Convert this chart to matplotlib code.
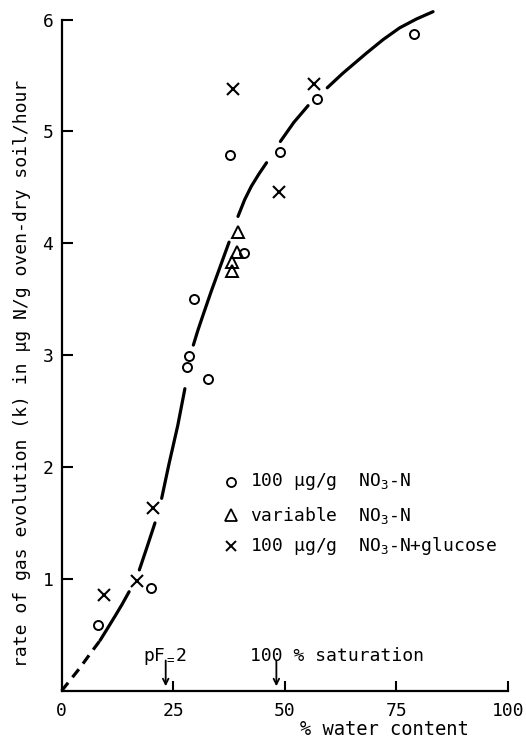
import matplotlib
matplotlib.use("Agg")
import matplotlib.pyplot as plt

# --- measurements: % water content vs rate of gas evolution (k) ---
nitrate_x = [78.9, 57.2, 48.9, 37.7, 40.8, 29.6, 28.5, 28.0, 32.7, 20.0, 8.2]
nitrate_y = [5.87, 5.29, 4.82, 4.79, 3.91, 3.50, 2.99, 2.89, 2.79, 0.92, 0.59]

variable_x = [39.5, 39.2, 38.1, 38.1]
variable_y = [4.10, 3.92, 3.83, 3.75]

glucose_x = [38.3, 56.6, 48.6, 20.5, 16.9, 9.5]
glucose_y = [5.38, 5.42, 4.46, 1.63, 0.98, 0.86]

# --- hand-drawn trend curve, traced as broken pieces ---
curve_dashed_x = [0, 2, 4, 6, 8.6]
curve_dashed_y = [0, 0.10, 0.20, 0.31, 0.45]
curve_pieces = [
    ([8.6, 10, 12, 13.5, 15.1], [0.45, 0.54, 0.67, 0.77, 0.885]),
    ([17.4, 19, 20.9], [1.08, 1.27, 1.50]),
    ([22.4, 24, 26, 27.6], [1.72, 2.02, 2.37, 2.70]),
    ([29.5, 30.5, 31.6, 33.5, 35.5, 37.5], [3.09, 3.22, 3.35, 3.57, 3.79, 4.01]),
    ([39.5, 41, 42.5, 44.2, 45.9], [4.24, 4.39, 4.51, 4.62, 4.72]),
    ([49.0, 52, 55.2], [4.91, 5.08, 5.23]),
    ([59.5, 63, 68.3, 72, 75.7, 79.5, 83.2], [5.39, 5.52, 5.70, 5.82, 5.925, 6.005, 6.07]),
]

x_ticks = [25, 50, 75, 100]
x_tick_labels = ["25", "50", "75", "100"]
y_ticks = [1, 2, 3, 4, 5, 6]

legend_labels = [r"100 µg/g  NO$_3$-N", r"variable  NO$_3$-N", r"100 µg/g  NO$_3$-N+glucose"]

pf2_x = 23.3
saturation_x = 48.1

plt.rcParams["font.family"] = ["DejaVu Sans Mono", "DejaVu Sans"]
plt.rcParams["mathtext.fontset"] = "custom"
plt.rcParams["mathtext.rm"] = "DejaVu Sans Mono"
plt.rcParams["mathtext.it"] = "DejaVu Sans Mono"

fig = plt.figure(figsize=(5.26, 7.44), dpi=100)
ax = fig.add_axes([0.1173, 0.0716, 0.8485, 0.9172])

ax.set_xlim(0, 100)
ax.set_ylim(0, 6.1)

for s in ("top", "right"):
    ax.spines[s].set_visible(False)
for s in ("left", "bottom"):
    ax.spines[s].set_linewidth(1.6)
ax.spines["left"].set_bounds(0, 6)
ax.spines["bottom"].set_bounds(0, 100)

# trend curve
ax.plot(curve_dashed_x, curve_dashed_y, color="black", lw=2.3,
        linestyle=(0, (3.2, 2.2)), solid_capstyle="butt", clip_on=False)
for px, py in curve_pieces:
    ax.plot(px, py, color="black", lw=2.3, solid_capstyle="round",
            solid_joinstyle="round", clip_on=False)

# markers
ax.plot(nitrate_x, nitrate_y, linestyle="none", marker="o", ms=6.5,
        mfc="white", mec="black", mew=1.4)
ax.plot(variable_x, variable_y, linestyle="none", marker="^", ms=8,
        mfc="none", mec="black", mew=1.4)
ax.plot(glucose_x, glucose_y, linestyle="none", marker="x", ms=8,
        mec="black", mew=1.5)

# ticks
ax.set_xticks(x_ticks, labels=x_tick_labels)
ax.set_xticks([0], labels=["0"], minor=True)
ax.set_yticks(y_ticks)
ax.tick_params(axis="x", which="major", direction="in", length=7, width=1.5,
               labelsize=13, pad=8)
ax.tick_params(axis="x", which="minor", length=0, labelsize=13, pad=8)
ax.tick_params(axis="y", which="major", direction="in", length=8, width=1.5,
               labelsize=13, pad=6)

# legend drawn as marker + text rows
legend_rows = [0.306, 0.257, 0.212]
legend_markers = [dict(marker="o", ms=6.5, mfc="white", mec="black", mew=1.3),
                  dict(marker="^", ms=8, mfc="none", mec="black", mew=1.3),
                  dict(marker="x", ms=7, mec="black", mew=1.4)]
for yy, lab, mk in zip(legend_rows, legend_labels, legend_markers):
    ax.plot([0.379], [yy], transform=ax.transAxes, linestyle="none", **mk)
    ax.text(0.422, yy, lab, transform=ax.transAxes, ha="left", va="center",
            fontsize=13)

# reference arrows on the x axis
ax.annotate("", xy=(pf2_x, 0.04), xytext=(pf2_x, 0.27),
            arrowprops=dict(arrowstyle="->", lw=1.3, color="black",
                            shrinkA=0, shrinkB=0))
ax.text(18.2, 0.31, r"pF$_=$2", ha="left", va="center", fontsize=13)
ax.annotate("", xy=(saturation_x, 0.04), xytext=(saturation_x, 0.27),
            arrowprops=dict(arrowstyle="->", lw=1.3, color="black",
                            shrinkA=0, shrinkB=0))
ax.text(42.2, 0.31, "100 % saturation", ha="left", va="center", fontsize=13)

# axis titles
ax.set_xlabel("% water content", fontsize=13.5)
ax.xaxis.set_label_coords(0.723, -0.043)
fig.text(22.5 / 526, 1 - 373 / 744,
         "rate of gas evolution (k) in µg N/g oven-dry soil/hour",
         rotation=90, ha="center", va="center", fontsize=13)

fig.savefig("out.png", dpi=100)
